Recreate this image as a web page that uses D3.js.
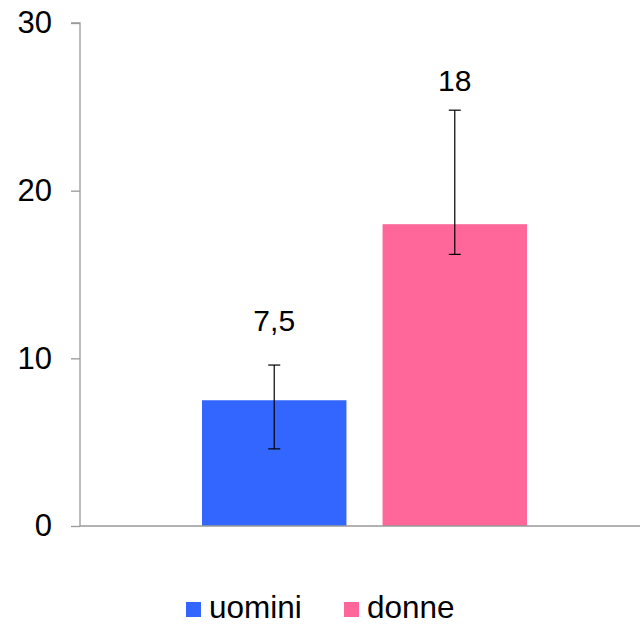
<!DOCTYPE html>
<html>
<head>
<meta charset="utf-8">
<script src="https://cdn.jsdelivr.net/npm/d3@7"></script>
<style>
  html, body { margin: 0; padding: 0; background: #fff; }
  svg { display: block; font-family: "Liberation Sans", Arial, sans-serif; }
</style>
</head>
<body>
<svg id="chart" width="641" height="624"></svg>
<script>
// Data
const series = ["uomini", "donne"];
const values = [7.5, 18];
const valueLabels = ["7,5", "18"];
const errLow = [4.6, 16.2];
const errHigh = [9.6, 24.8];
const colors = ["#3366FF", "#FF6699"];
const yTicks = [0, 10, 20, 30];

(function () {
const svg = d3.select("#chart");
const mLeft = 80, mRight = 640, mTop = 23, mBottom = 526;

const y = d3.scaleLinear().domain([0, 30]).range([mBottom, mTop]);
const x = d3.scaleBand().domain(series).range([202, 527]).paddingInner(0.2).paddingOuter(0);

// Y axis
const yAxis = d3.axisLeft(y).tickValues(yTicks).tickSize(9).tickPadding(19).tickFormat(d3.format("d"));
const ga = svg.append("g").attr("transform", `translate(${mLeft},0)`).call(yAxis);
ga.select(".domain").attr("stroke", "#999").attr("stroke-width", 1.3).attr("d", `M-9,${mTop}H0V${mBottom}`);
ga.selectAll(".tick line").attr("stroke", "#999").attr("stroke-width", 1.3);
ga.selectAll(".tick text").attr("fill", "#000").attr("font-size", 31).attr("font-family", "Liberation Sans, Arial, sans-serif");

// Bars
svg.append("g").selectAll("rect").data(series).join("rect")
  .attr("x", d => x(d))
  .attr("width", x.bandwidth())
  .attr("y", (d, i) => y(values[i]))
  .attr("height", (d, i) => y(0) - y(values[i]))
  .attr("fill", (d, i) => colors[i]);

// X axis baseline
svg.append("line").attr("x1", mLeft).attr("x2", mRight).attr("y1", y(0)).attr("y2", y(0))
  .attr("stroke", "#999").attr("stroke-width", 1.3);

// Error bars
const eg = svg.append("g").attr("stroke", "#000").attr("stroke-width", 1.2);
series.forEach((s, i) => {
  const cx = x(s) + x.bandwidth() / 2;
  eg.append("line").attr("x1", cx).attr("x2", cx).attr("y1", y(errLow[i])).attr("y2", y(errHigh[i]));
  eg.append("line").attr("x1", cx - 6).attr("x2", cx + 6).attr("y1", y(errLow[i])).attr("y2", y(errLow[i]));
  eg.append("line").attr("x1", cx - 6).attr("x2", cx + 6).attr("y1", y(errHigh[i])).attr("y2", y(errHigh[i]));
});

// Value labels
const labelGap = [34, 19.5];
svg.append("g").selectAll("text").data(series).join("text")
  .attr("x", d => x(d) + x.bandwidth() / 2)
  .attr("y", (d, i) => y(errHigh[i]) - labelGap[i])
  .attr("text-anchor", "middle")
  .attr("font-size", 30)
  .attr("fill", "#000")
  .text((d, i) => valueLabels[i]);

// Legend
const legendX = [186, 344];
const lg = svg.append("g");
series.forEach((s, i) => {
  lg.append("rect").attr("x", legendX[i]).attr("y", 602).attr("width", 15).attr("height", 15).attr("fill", colors[i]);
  lg.append("text").attr("x", legendX[i] + 23).attr("y", 618).attr("font-size", 31.5).attr("fill", "#000").text(s);
});
})();
</script>
</body>
</html>
